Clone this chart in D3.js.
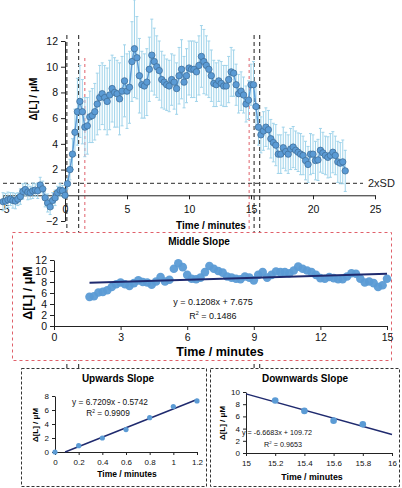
<!DOCTYPE html>
<html><head><meta charset="utf-8">
<script src="https://cdn.jsdelivr.net/npm/d3@7"></script>
<style>
html,body{margin:0;padding:0;background:#fff;}
svg{display:block;font-family:"Liberation Sans",Arial,sans-serif;}
</style></head>
<body>
<svg id="c" width="402" height="488"></svg>
<script>
// ---------------- DATA ----------------
const times = [-5.0,-4.8,-4.6,-4.4,-4.2,-4.0,-3.8,-3.6,-3.4,-3.2,-3.0,-2.8,-2.6,-2.4,-2.2,-2.0,-1.8,-1.6,-1.4,-1.2,-1.0,-0.8,-0.6,-0.4,-0.2,
 0.0,0.2,0.4,0.6,0.8,1.0,1.2,1.4,1.6,1.8,
 2.0,2.2,2.4,2.6,2.8,3.0,3.2,3.4,3.6,3.8,
 4.0,4.2,4.4,4.6,4.8,5.0,5.2,5.4,5.6,5.8,
 6.0,6.2,6.4,6.6,6.8,7.0,7.2,7.4,7.6,7.8,
 8.0,8.2,8.4,8.6,8.8,9.0,9.2,9.4,9.6,9.8,
 10.0,10.2,10.4,10.6,10.8,11.0,11.2,11.4,11.6,11.8,
 12.0,12.2,12.4,12.6,12.8,13.0,13.2,13.4,13.6,13.8,
 14.0,14.2,14.4,14.6,14.8,15.0,15.2,15.4,15.6,15.8,
 16.0,16.2,16.4,16.6,16.8,17.0,17.2,17.4,17.6,17.8,
 18.0,18.2,18.4,18.6,18.8,19.0,19.2,19.4,19.6,19.8,
 20.0,20.2,20.4,20.6,20.8,21.0,21.2,21.4,21.6,21.8,
 22.0,22.2,22.4,22.6];
const deltaL = [-0.5,-0.45,-0.35,-0.3,-0.4,-0.45,-0.3,-0.1,0.3,0.45,0.25,0.2,0.35,0.4,0.35,0.8,0.5,-0.2,-0.6,-0.9,-0.4,-0.2,0.2,0.4,0.35,
 0.0,0.9,2.0,3.2,4.9,6.5,7.3,6.5,5.3,5.4,
 6.1,6.2,6.5,7.1,7.6,7.9,7.6,7.3,7.8,8.3,
 8.0,7.9,7.5,8.1,8.9,8.1,8.4,10.4,11.4,10.7,
 9.3,8.6,8.5,8.8,9.8,10.9,10.4,10.0,9.7,9.0,
 8.8,8.6,8.5,9.0,8.8,8.3,9.3,9.8,8.8,9.3,
 9.9,9.8,9.8,9.6,10.1,10.8,10.4,10.1,9.8,9.3,
 8.7,8.6,8.9,8.7,8.5,8.5,9.0,9.6,9.5,8.6,
 7.9,8.1,7.8,7.1,7.4,8.6,8.6,6.9,5.3,4.7,
 5.0,5.3,5.1,4.4,4.1,3.9,3.2,3.2,3.7,3.4,
 3.2,3.6,3.75,3.5,3.35,3.2,3.1,2.7,2.4,3.2,
 3.2,2.7,2.75,3.5,3.3,3.1,2.95,3.1,3.35,3.1,
 2.6,2.5,2.6,1.9];
const sdErr = [0.7,0.6,0.6,0.5,0.6,0.6,0.5,0.6,0.6,0.5,0.6,0.5,0.6,0.5,0.6,0.6,0.6,0.7,0.7,0.6,0.6,0.6,0.5,0.5,0.4,
 0.2,0.4,0.8,1.2,1.8,2.6,2.8,2.5,2.3,2.2,
 2.0,2.1,2.2,2.4,2.5,2.4,2.5,2.6,2.7,2.6,
 2.7,2.6,2.8,2.7,2.8,2.9,2.8,3.1,3.8,3.2,
 2.9,2.6,2.5,2.6,2.5,2.8,2.6,2.4,2.3,2.2,
 2.1,2.0,2.0,2.0,2.1,2.0,2.2,2.3,2.0,2.1,
 2.1,2.2,2.2,2.3,2.3,2.4,2.5,2.3,2.2,2.0,
 1.8,1.7,1.6,1.7,1.6,1.6,1.8,1.9,1.8,1.6,
 1.5,1.5,1.4,1.4,1.5,1.6,1.8,1.6,1.4,1.4,
 1.5,1.5,1.5,1.5,1.5,1.6,1.5,1.5,1.6,1.5,
 1.5,1.6,1.6,1.5,1.5,1.6,1.5,1.5,1.4,1.6,
 1.5,1.5,1.6,1.7,1.6,1.5,1.6,1.7,1.6,1.5,
 1.6,1.6,1.7,1.6];
const sdThreshold = 0.93;             // 2xSD level
const blackMarkers = [0.15, 1.1, 15.25, 15.7];
const redMarkers = [1.6, 14.85];
const midRange = [1.6, 15.0];
const upRange = [0.0, 1.2];
const downRange = [15.2, 15.8];
const midFit = [0.1208, 7.675];
const upFit = [6.7209, -0.5742];
const downFit = [-6.6683, 109.72];
const mainXTicks = [-5,0,5,10,15,20,25];
const mainYTicks = [-2,0,2,4,6,8,10,12];
const midXTicks = [0,3,6,9,12,15];
const midYTicks = [0,2,4,6,8,10,12];
const upXTicks = [0,0.2,0.4,0.6,0.8,1,1.2];
const upYTicks = [0,2,4,6,8];
const downXTicks = [15,15.2,15.4,15.6,15.8,16];
const downYTicks = [0,2,4,6,8,10];

const data = times.map((t,i)=>({t, v: deltaL[i], e: sdErr[i]}));

// ---------------- STYLE ----------------
const BLUE = "#5b9bd5", BLUE_D = "#41719c", ERR = "#9fd3ea", NAVY = "#1f2a6e", RED = "#e0606a";
const svg = d3.select("#c");

function styleAxis(g, fs){
  g.selectAll("path.domain").attr("stroke","#222").attr("stroke-width",1);
  g.selectAll(".tick line").attr("stroke","#222");
  g.selectAll("text").attr("font-size",fs).attr("fill","#111").attr("font-family","Liberation Sans, Arial, sans-serif");
}
function r2Text(x, y, fs, val){
  const t = svg.append("text").attr("x",x).attr("y",y).attr("text-anchor","middle").attr("font-size",fs).attr("fill","#111");
  t.append("tspan").text("R");
  t.append("tspan").attr("font-size",fs*0.6).attr("dy",-fs*0.4).text("2");
  t.append("tspan").attr("dy",fs*0.4).text(" = " + val);
}

// ---------------- MAIN CHART ----------------
const xM = d3.scaleLinear().domain([-5,25]).range([3,375]);
const yM = d3.scaleLinear().domain([-2,12]).range([221,41]);

// marker lines (drawn first, panels cover them)
svg.append("g").selectAll("line").data(blackMarkers).join("line")
  .attr("x1",d=>xM(d)).attr("x2",d=>xM(d)).attr("y1",35).attr("y2",368)
  .attr("stroke","#333").attr("stroke-width",1.1).attr("stroke-dasharray","4,3");
svg.append("g").selectAll("line").data(redMarkers).join("line")
  .attr("x1",d=>xM(d)).attr("x2",d=>xM(d)).attr("y1",58).attr("y2",232)
  .attr("stroke",RED).attr("stroke-width",1).attr("stroke-dasharray","3,3");

// 2xSD line
svg.append("line").attr("x1",xM(-5)).attr("x2",363).attr("y1",yM(sdThreshold)).attr("y2",yM(sdThreshold))
  .attr("stroke","#555").attr("stroke-width",1.1).attr("stroke-dasharray","4,3");
svg.append("text").attr("x",368).attr("y",yM(sdThreshold)+4).attr("font-size",11).attr("fill","#222").text("2xSD");

// axes
const gx = svg.append("g").attr("transform",`translate(0,${yM(0)})`)
  .call(d3.axisBottom(xM).tickValues(mainXTicks).tickSize(4).tickPadding(6).tickSizeOuter(0));
styleAxis(gx, 10.5);
const gy = svg.append("g").attr("transform",`translate(${xM(0)},0)`)
  .call(d3.axisLeft(yM).tickValues(mainYTicks).tickSize(4).tickPadding(3).tickSizeOuter(0));
styleAxis(gy, 10.5);

svg.append("text").attr("x",211).attr("y",229).attr("text-anchor","middle").attr("font-size",10).attr("font-weight","bold").text("Time / minutes");
svg.append("text").attr("transform","translate(37,99) rotate(-90)").attr("text-anchor","middle").attr("font-size",10).attr("font-weight","bold").text("Δ[L] / μM");

// error bars
const eb = svg.append("g").attr("stroke",ERR).attr("stroke-width",1);
eb.selectAll("line.v").data(data).join("line").attr("class","v")
  .attr("x1",d=>xM(d.t)).attr("x2",d=>xM(d.t)).attr("y1",d=>yM(d.v+d.e)).attr("y2",d=>yM(d.v-d.e));
eb.selectAll("line.t").data(data).join("line").attr("class","t")
  .attr("x1",d=>xM(d.t)-1.5).attr("x2",d=>xM(d.t)+1.5).attr("y1",d=>yM(d.v+d.e)).attr("y2",d=>yM(d.v+d.e));
eb.selectAll("line.b").data(data).join("line").attr("class","b")
  .attr("x1",d=>xM(d.t)-1.5).attr("x2",d=>xM(d.t)+1.5).attr("y1",d=>yM(d.v-d.e)).attr("y2",d=>yM(d.v-d.e));

svg.append("path").datum(data).attr("fill","none").attr("stroke",BLUE).attr("stroke-width",1.5)
  .attr("d",d3.line().x(d=>xM(d.t)).y(d=>yM(d.v)));
svg.append("g").selectAll("circle").data(data).join("circle")
  .attr("cx",d=>xM(d.t)).attr("cy",d=>yM(d.v)).attr("r",3.2)
  .attr("fill",BLUE).attr("stroke",BLUE_D).attr("stroke-width",0.8);

// ---------------- MIDDLE PANEL ----------------
svg.append("rect").attr("x",12.5).attr("y",232.5).attr("width",379).attr("height",128)
  .attr("fill","#fff").attr("stroke",RED).attr("stroke-width",1).attr("stroke-dasharray","3,3");
svg.append("text").attr("x",199).attr("y",245).attr("text-anchor","middle").attr("font-size",10).attr("font-weight","bold").text("Middle Slope");
const xMid = d3.scaleLinear().domain([0,15]).range([54,387]);
const yMid = d3.scaleLinear().domain([0,12]).range([326,260]);
const gmx = svg.append("g").attr("transform",`translate(0,326)`)
  .call(d3.axisBottom(xMid).tickValues(midXTicks).tickSize(4).tickPadding(4).tickSizeOuter(0));
styleAxis(gmx, 10.5);
const gmy = svg.append("g").attr("transform",`translate(54,0)`)
  .call(d3.axisLeft(yMid).tickValues(midYTicks).tickSize(4).tickPadding(3).tickSizeOuter(0));
styleAxis(gmy, 10.5);
const midData = data.filter(d=>d.t>=midRange[0]-1e-9 && d.t<=midRange[1]+1e-9);
svg.append("g").selectAll("circle").data(midData).join("circle")
  .attr("cx",d=>xMid(d.t)).attr("cy",d=>yMid(d.v)).attr("r",4.3).attr("fill",BLUE).attr("opacity",0.95);
svg.append("line").attr("x1",xMid(midRange[0])).attr("x2",xMid(midRange[1]))
  .attr("y1",yMid(midFit[0]*midRange[0]+midFit[1])).attr("y2",yMid(midFit[0]*midRange[1]+midFit[1]))
  .attr("stroke",NAVY).attr("stroke-width",2);
svg.append("text").attr("x",213).attr("y",305).attr("text-anchor","middle").attr("font-size",9).attr("fill","#111").text("y = 0.1208x + 7.675");
r2Text(213, 319, 9, "0.1486");
svg.append("text").attr("x",220).attr("y",356).attr("text-anchor","middle").attr("font-size",12.5).attr("font-weight","bold").text("Time / minutes");
svg.append("text").attr("transform","translate(32,293) rotate(-90)").attr("text-anchor","middle").attr("font-size",12.5).attr("font-weight","bold").text("Δ[L] / μM");

// ---------------- BOTTOM-LEFT PANEL ----------------
svg.append("rect").attr("x",21.5).attr("y",368.5).attr("width",185).attr("height",118)
  .attr("fill","#fff").attr("stroke","#333").attr("stroke-width",1).attr("stroke-dasharray","3,2");
svg.append("text").attr("x",118).attr("y",382).attr("text-anchor","middle").attr("font-size",10).attr("font-weight","bold").text("Upwards Slope");
const xUp = d3.scaleLinear().domain([0,1.2]).range([55,197]);
const yUp = d3.scaleLinear().domain([0,8]).range([452,396]);
const gux = svg.append("g").attr("transform",`translate(0,452)`)
  .call(d3.axisBottom(xUp).tickValues(upXTicks).tickFormat(d3.format("~g")).tickSize(3).tickPadding(4).tickSizeOuter(0));
styleAxis(gux, 8);
const guy = svg.append("g").attr("transform",`translate(55,0)`)
  .call(d3.axisLeft(yUp).tickValues(upYTicks).tickSize(3).tickPadding(3).tickSizeOuter(0));
styleAxis(guy, 8);
const upData = data.filter(d=>d.t>=upRange[0]-1e-9 && d.t<=upRange[1]+1e-9);
const upX0 = -upFit[1]/upFit[0];
svg.append("line").attr("x1",xUp(upX0)).attr("x2",xUp(upRange[1]))
  .attr("y1",yUp(0)).attr("y2",yUp(upFit[0]*upRange[1]+upFit[1]))
  .attr("stroke",NAVY).attr("stroke-width",1.5);
svg.append("g").selectAll("circle").data(upData).join("circle")
  .attr("cx",d=>xUp(d.t)).attr("cy",d=>yUp(d.v)).attr("r",2.6).attr("fill",BLUE);
svg.append("text").attr("x",110).attr("y",405).attr("text-anchor","middle").attr("font-size",8.3).attr("fill","#111").text("y = 6.7209x - 0.5742");
r2Text(108, 416, 8.3, "0.9909");
svg.append("text").attr("x",127).attr("y",477).attr("text-anchor","middle").attr("font-size",8.5).attr("font-weight","bold").text("Time / minutes");
svg.append("text").attr("transform","translate(38,425) rotate(-90)").attr("text-anchor","middle").attr("font-size",8).attr("font-weight","bold").text("Δ[L] / μM");

// ---------------- BOTTOM-RIGHT PANEL ----------------
svg.append("rect").attr("x",210.5).attr("y",368.5).attr("width",189).attr("height",118)
  .attr("fill","#fff").attr("stroke","#333").attr("stroke-width",1).attr("stroke-dasharray","3,2");
svg.append("text").attr("x",305).attr("y",382).attr("text-anchor","middle").attr("font-size",10).attr("font-weight","bold").text("Downwards Slope");
const xDn = d3.scaleLinear().domain([15,16]).range([246,392]);
const yDn = d3.scaleLinear().domain([0,10]).range([453,392]);
const gdx = svg.append("g").attr("transform",`translate(0,453)`)
  .call(d3.axisBottom(xDn).tickValues(downXTicks).tickFormat(d3.format("~g")).tickSize(3).tickPadding(4).tickSizeOuter(0));
styleAxis(gdx, 8);
const gdy = svg.append("g").attr("transform",`translate(246,0)`)
  .call(d3.axisLeft(yDn).tickValues(downYTicks).tickSize(3).tickPadding(3).tickSizeOuter(0));
styleAxis(gdy, 8);
const dnData = data.filter(d=>d.t>=downRange[0]-1e-9 && d.t<=downRange[1]+1e-9);
svg.append("line").attr("x1",xDn(15)).attr("x2",xDn(16))
  .attr("y1",yDn(downFit[0]*15+downFit[1])).attr("y2",yDn(downFit[0]*16+downFit[1]))
  .attr("stroke",NAVY).attr("stroke-width",1.5);
svg.append("g").selectAll("circle").data(dnData).join("circle")
  .attr("cx",d=>xDn(d.t)).attr("cy",d=>yDn(d.v)).attr("r",3.3).attr("fill",BLUE);
svg.append("text").attr("x",277).attr("y",435).attr("text-anchor","middle").attr("font-size",7.2).attr("fill","#111").text("y = -6.6683x + 109.72");
r2Text(283, 447, 7.2, "0.9653");
svg.append("text").attr("x",312).attr("y",480).attr("text-anchor","middle").attr("font-size",8.8).attr("font-weight","bold").text("Time / minutes");
svg.append("text").attr("transform","translate(225,423) rotate(-90)").attr("text-anchor","middle").attr("font-size",8).attr("font-weight","bold").text("Δ[L] / μM");
</script>
</body></html>
